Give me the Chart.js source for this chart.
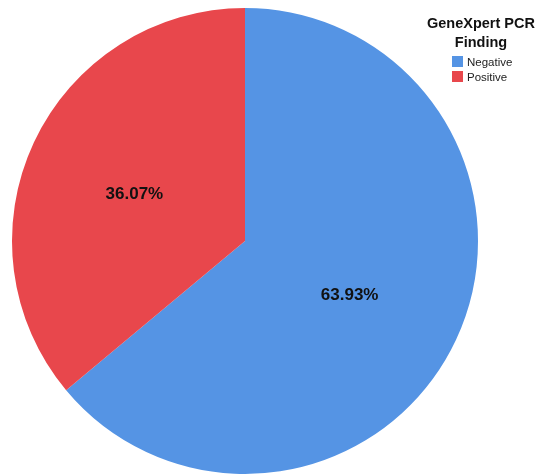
<!DOCTYPE html>
<html>
<head>
<meta charset="utf-8">
<script src="https://cdn.jsdelivr.net/npm/chart.js@4.4.1/dist/chart.umd.min.js"></script>
<style>
    html, body { margin: 0; padding: 0; background: #fff; }
    #wrap { position: relative; width: 539px; height: 475px; overflow: hidden; }
    #legend { position: absolute; left: 416px; top: 14px; width: 130px; font-family: "Liberation Sans", Arial, sans-serif; }
    #legend .title { text-align: center; font-weight: bold; font-size: 14.5px; line-height: 19px; color: #111; }
    #legend .items { margin-left: 36px; margin-top: 2px; }
    #legend .item { display: flex; align-items: center; font-size: 11.5px; height: 15px; color: #222; }
    #legend .box { width: 11px; height: 11px; margin-right: 4px; }
</style>
</head>
<body>
<div id="wrap">
    <canvas id="pie" width="539" height="475"></canvas>
    <div id="legend"></div>
</div>
<script>
const legendTitle = ['GeneXpert PCR', 'Finding'];
const categories = ['Negative', 'Positive'];
const percentages = [63.93, 36.07];
const sliceColors = ['#5594E4', '#E8474C'];

// labels drawn inside each slice, roughly halfway out along its mid angle
const sliceLabels = {
    id: 'sliceLabels',
    afterDatasetsDraw(chart) {
        const ctx = chart.ctx;
        const meta = chart.getDatasetMeta(0);
        ctx.save();
        ctx.font = 'bold 17px "Liberation Sans", Arial, sans-serif';
        ctx.fillStyle = '#111';
        ctx.textAlign = 'center';
        ctx.textBaseline = 'middle';
        meta.data.forEach((arc, i) => {
            const { x, y, startAngle, endAngle, outerRadius } = arc.getProps(['x', 'y', 'startAngle', 'endAngle', 'outerRadius'], true);
            const mid = (startAngle + endAngle) / 2;
            const r = outerRadius * 0.51;
            // small nudge down-left, the original sits a little off the radial line
            ctx.fillText(percentages[i].toFixed(2) + '%', x + Math.cos(mid) * r - 3, y + Math.sin(mid) * r + 4);
        });
        ctx.restore();
    }
};

new Chart(document.getElementById('pie'), {
    type: 'pie',
    data: {
        labels: categories,
        datasets: [{
            data: percentages,
            backgroundColor: sliceColors,
            borderWidth: 0,
            hoverOffset: 0
        }]
    },
    options: {
        responsive: false,
        animation: false,
        layout: { padding: { left: 12, right: 61, top: 8, bottom: 1 } },
        plugins: {
            legend: { display: false },
            tooltip: { enabled: false }
        }
    },
    plugins: [sliceLabels]
});

const legendEl = document.getElementById('legend');
legendEl.innerHTML = '<div class="title">' + legendTitle.join('<br>') + '</div><div class="items">' +
    categories.map((c, i) => `<div class="item"><span class="box" style="background:${sliceColors[i]}"></span>${c}</div>`).join('') +
    '</div>';
</script>
</body>
</html>
